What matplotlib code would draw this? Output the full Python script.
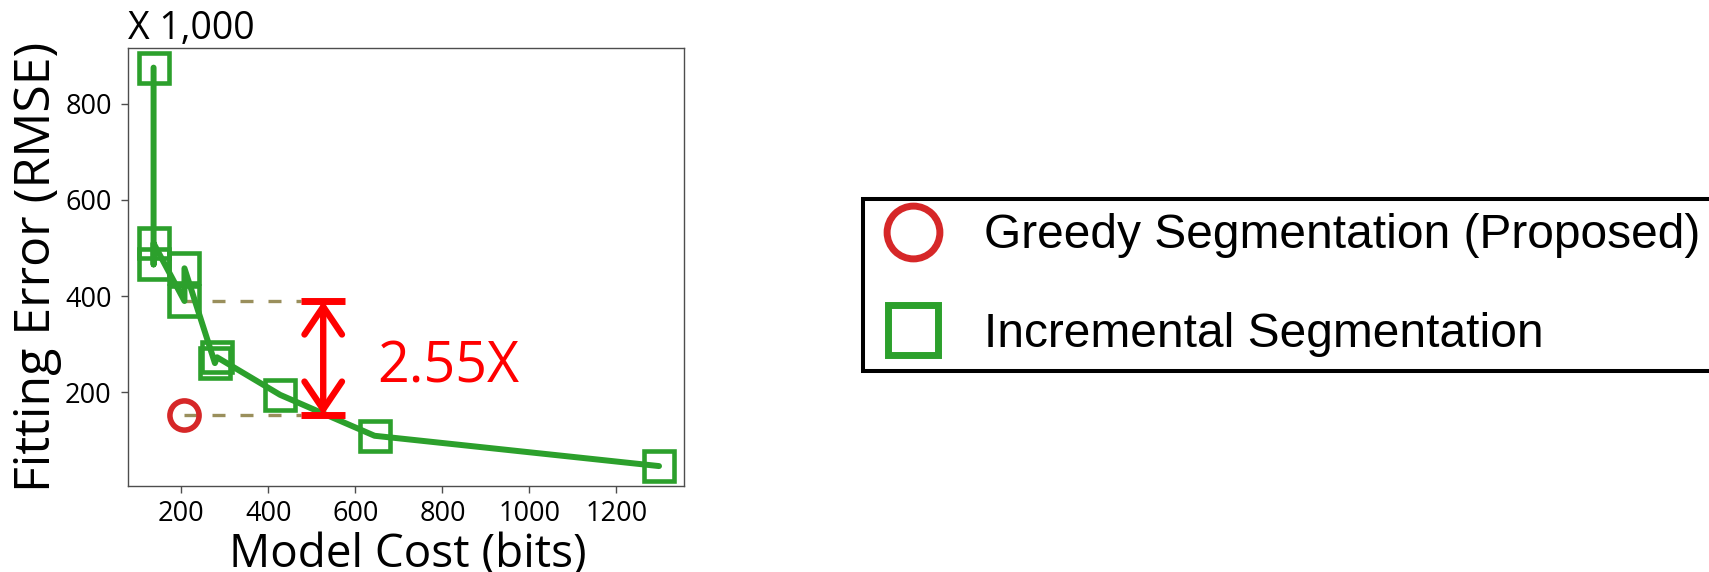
import matplotlib
matplotlib.use("Agg")
import matplotlib.pyplot as plt
from matplotlib.lines import Line2D
from matplotlib.patches import FancyArrowPatch

# Incremental segmentation: model cost (bits) vs. fitting error (RMSE, x1000),
# listed in the order the segmentation sweep visits them
inc_cost = [136, 136, 136, 207, 207, 277, 282, 427, 644, 1298]
inc_err = [875, 466, 510, 390, 458, 261, 273, 195, 110, 47]

# Greedy segmentation (proposed)
greedy_cost = [207]
greedy_err = [153]

# Incremental point compared against the greedy result at the same cost
ref_idx = 3

x_ticks = [200, 400, 600, 800, 1000, 1200]
y_ticks = [200, 400, 600, 800]

labels = ["Greedy Segmentation (Proposed)", "Incremental Segmentation"]
xlabel = "Model Cost (bits)"
ylabel = "Fitting Error (RMSE)"
scale_note = "X 1,000"

GREEN = "#2ca02c"
RED = "#d62728"
OLIVE = "#9a8f5c"
W, H = 1709, 572

plt.rcParams["font.family"] = ["Open Sans", "DejaVu Sans"]

fig = plt.figure(figsize=(W / 100, H / 100), dpi=100)
ax = fig.add_axes([128.3 / W, (H - 486) / H, 556 / W, 438.3 / H])

ax.plot(inc_cost, inc_err, color=GREEN, lw=4.3, marker="s", ms=21.6,
        mfc="none", mec=GREEN, mew=3.3, solid_joinstyle="round",
        solid_capstyle="round", zorder=3)
ax.plot(greedy_cost, greedy_err, ls="none", marker="o", ms=21,
        mfc="none", mec=RED, mew=4.0, zorder=3)

# dashed guides from each point to the ratio bracket
ref_cost, ref_err = inc_cost[ref_idx], inc_err[ref_idx]
g_cost, g_err = greedy_cost[0], greedy_err[0]
bx, half = 526, 51
dash = (0, (3.9, 4.5))
ax.plot([ref_cost, bx - half], [ref_err, ref_err], ls=dash, lw=2.4,
        color=OLIVE, zorder=2)
ax.plot([g_cost, bx - half], [g_err, g_err], ls=dash, lw=2.4,
        color=OLIVE, zorder=2)

# bracket with a double-headed arrow
for yv in (ref_err, g_err):
    ax.plot([bx - half, bx + half], [yv, yv], color="red", lw=5,
            solid_capstyle="butt", zorder=4)
arrow = FancyArrowPatch((bx, g_err), (bx, ref_err),
                        arrowstyle="<->,head_length=0.4,head_width=0.27",
                        mutation_scale=50, lw=4.6, color="red",
                        shrinkA=0, shrinkB=0, capstyle="round",
                        joinstyle="round", zorder=4)
ax.add_patch(arrow)
ratio = ref_err / g_err
ax.text(650, 220, f"{ratio:.2f}X", color="red", fontsize=40, va="baseline")

ax.set_xticks(x_ticks)
ax.set_yticks(y_ticks)
ax.set_xlabel(xlabel, fontsize=33)
ax.set_ylabel(ylabel, fontsize=36)
ax.xaxis.set_label_coords(0.503, -0.106)
ax.yaxis.set_label_coords(-0.119, 0.5)
ax.tick_params(labelsize=19.5, color="#4d4d4d", length=5, width=1)
ax.tick_params(axis="y", pad=7)
ax.tick_params(axis="x", pad=5)
for sp in ax.spines.values():
    sp.set_color("#4d4d4d")
    sp.set_linewidth(1.0)

fig.text(128 / W, 1 - 39.3 / H, scale_note, fontsize=27, va="baseline",
         ha="left")

handles = [
    Line2D([], [], ls="none", marker="o", ms=38, mfc="none", mec=RED, mew=5),
    Line2D([], [], ls="none", marker="s", ms=36, mfc="none", mec=GREEN, mew=5),
]
leg = fig.legend(handles, labels, loc="upper left",
                 bbox_to_anchor=(863 / W, 1 - 199 / H),
                 bbox_transform=fig.transFigure,
                 prop={"family": "Liberation Sans", "size": 34.5},
                 frameon=True, fancybox=False, edgecolor="black",
                 framealpha=1, borderpad=0.3, handlelength=1.49,
                 handletextpad=0.73, labelspacing=1.11, borderaxespad=0)
leg.get_frame().set_linewidth(2.9)

fig.savefig("out.png", dpi=100)
